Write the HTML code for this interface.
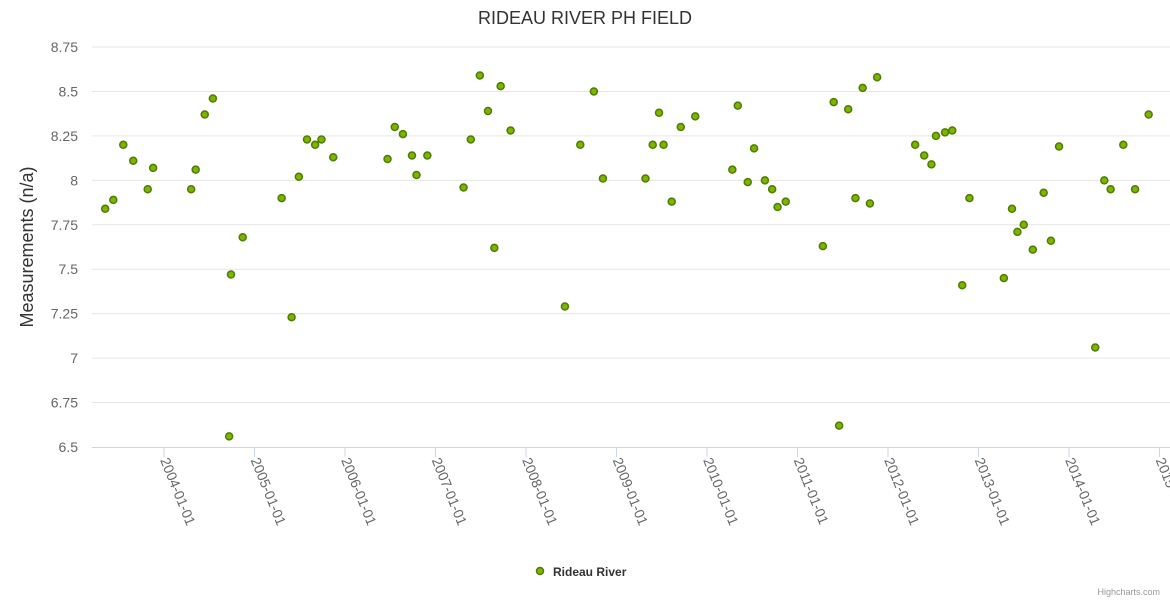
<!DOCTYPE html>
<html><head><meta charset="utf-8"><style>
body{margin:0;background:#fff;font-family:"Liberation Sans",sans-serif}
svg{display:block}
</style></head><body>
<svg id="c" width="1170" height="600">
<text x="585" y="24" text-anchor="middle" font-size="18" fill="#333">RIDEAU RIVER PH FIELD</text>
<text transform="translate(33,247) rotate(-90)" text-anchor="middle" font-size="18" fill="#333">Measurements (n/a)</text>
<g id="grid"></g><g id="xax"></g><g id="pts"></g>
<g>
<circle cx="540" cy="571" r="3.5" fill="#7cb500" stroke="#4e7d00" stroke-width="1.5"/>
<text x="553" y="576" font-size="12" font-weight="bold" fill="#333">Rideau River</text>
</g>
<text x="1160" y="595" text-anchor="end" font-size="9" fill="#999">Highcharts.com</text>
</svg>
<script>
const yTicks=[6.5,6.75,7,7.25,7.5,7.75,8,8.25,8.5,8.75];
const yTickLabels=["6.5","6.75","7","7.25","7.5","7.75","8","8.25","8.5","8.75"];
const xTicks=[2004,2005,2006,2007,2008,2009,2010,2011,2012,2013,2014,2015];
const xTickLabels=["2004-01-01","2005-01-01","2006-01-01","2007-01-01","2008-01-01","2009-01-01","2010-01-01","2011-01-01","2012-01-01","2013-01-01","2014-01-01","2015-01-01"];
const dates=[2003.35,2003.44,2003.55,2003.66,2003.82,2003.88,2004.30,2004.35,2004.45,2004.54,2004.72,2004.74,2004.87,2005.30,2005.41,2005.49,2005.58,2005.67,2005.74,2005.87,2006.47,2006.55,2006.64,2006.74,2006.79,2006.91,2007.31,2007.39,2007.49,2007.58,2007.65,2007.72,2007.83,2008.43,2008.60,2008.75,2008.85,2009.32,2009.40,2009.47,2009.52,2009.61,2009.71,2009.87,2010.28,2010.34,2010.45,2010.52,2010.64,2010.72,2010.78,2010.87,2011.28,2011.40,2011.46,2011.56,2011.64,2011.72,2011.80,2011.88,2012.30,2012.40,2012.48,2012.53,2012.63,2012.71,2012.82,2012.90,2013.28,2013.37,2013.43,2013.50,2013.60,2013.72,2013.80,2013.89,2014.29,2014.39,2014.46,2014.60,2014.73,2014.88];
const phValues=[7.84,7.89,8.2,8.11,7.95,8.07,7.95,8.06,8.37,8.46,6.56,7.47,7.68,7.9,7.23,8.02,8.23,8.2,8.23,8.13,8.12,8.3,8.26,8.14,8.03,8.14,7.96,8.23,8.59,8.39,7.62,8.53,8.28,7.29,8.2,8.5,8.01,8.01,8.2,8.38,8.2,7.88,8.3,8.36,8.06,8.42,7.99,8.18,8.0,7.95,7.85,7.88,7.63,8.44,6.62,8.4,7.9,8.52,7.87,8.58,8.2,8.14,8.09,8.25,8.27,8.28,7.41,7.9,7.45,7.84,7.71,7.75,7.61,7.93,7.66,8.19,7.06,8.0,7.95,8.2,7.95,8.37];
const NS="http://www.w3.org/2000/svg";
const L=92,R=1170,T=47,B=447;
const xS=v=>164+(v-2004)*90.5;
const yS=v=>B-(v-6.5)/2.25*(B-T);
function mk(t,a,p){const e=document.createElementNS(NS,t);for(const k in a)e.setAttribute(k,a[k]);p.appendChild(e);return e;}
const g=document.getElementById('grid');
yTicks.forEach((v,i)=>{
 const y=yS(v);
 if(i>0){const l=mk('line',{x1:L,x2:R,y1:y,y2:y,stroke:'#e6e6e6','stroke-width':1},g);
 
 }
 const t=mk('text',{x:78,y:y+5,'text-anchor':'end','font-size':14,fill:'#666'},g);
 t.textContent=yTickLabels[i];
 
 
});
const xa=document.getElementById('xax');
const axl=mk('line',{x1:L,x2:R,y1:B+0.5,y2:B+0.5,stroke:'#ccd6eb','stroke-width':1},xa);


xTicks.forEach((v,i)=>{
 const x=xS(v);
 const tk=mk('line',{x1:x,x2:x,y1:B,y2:B+10,stroke:'#ccd6eb','stroke-width':1},xa);
 
 
 const t=mk('text',{transform:`translate(${x-4},${B+13}) rotate(68)`,'font-size':14,fill:'#666'},xa);
 t.textContent=xTickLabels[i];
 
 
});
const pg=document.getElementById('pts');
dates.forEach((d,i)=>{
 const c=mk('circle',{cx:xS(d),cy:yS(phValues[i]),r:3.5,fill:'#7cb500',stroke:'#4e7d00','stroke-width':1.5},pg);
 
 
});
</script>
</body></html>
